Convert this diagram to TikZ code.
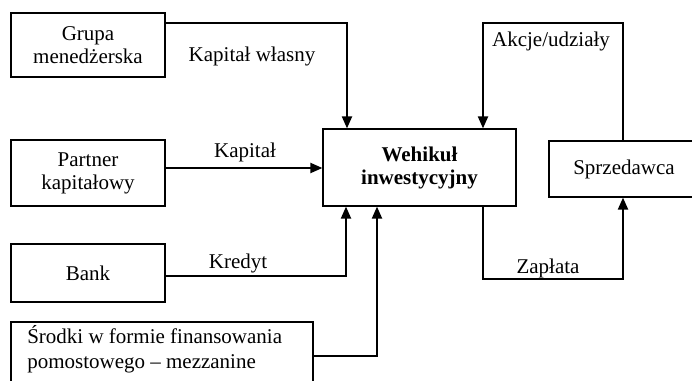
\documentclass[tikz,border=0pt]{standalone}
\usepackage{fontspec}
\setmainfont{Liberation Serif}
\usetikzlibrary{arrows.meta}
\begin{document}
\begin{tikzpicture}[x=0.75pt,y=-0.75pt,
  box/.style={draw,line width=0.9pt,inner sep=0pt,align=center,font=\fontsize{15.75}{17.25}\selectfont},
  txt/.style={inner sep=0pt,anchor=base,font=\fontsize{15.75}{17.25}\selectfont},
  conn/.style={line width=1.5pt,-{Triangle[length=9pt,width=7.5pt]}}]
\useasboundingbox (0,0) rectangle (692,381);
\clip (0,0) rectangle (692,381);
\node[box,minimum width=115.5pt,minimum height=48pt] (grupa) at (88,45) {Grupa\\menedżerska};
\node[box,minimum width=115.5pt,minimum height=49.5pt] (partner) at (88,173) {Partner\\kapitałowy};
\node[box,minimum width=115.5pt,minimum height=43.5pt] (bank) at (88,273) {Bank};
\node[box,minimum width=226.5pt,minimum height=58.5pt] (srodki) at (162,361) {};
\node[inner sep=0pt,anchor=west,align=left,font=\fontsize{15.75}{18.5}\selectfont] (srodkitxt) at (27,349) {Środki w formie finansowania\\pomostowego – mezzanine};
\node[box,minimum width=144.75pt,minimum height=57.75pt,font=\fontsize{15.75}{17.25}\selectfont\bfseries] (wehikul) at (419.5,167.5) {Wehikuł\\inwestycyjny};
\node[box,minimum width=112.5pt,minimum height=42pt] (sprzedawca) at (624,169) {Sprzedawca};

\coordinate (g1) at (347,23);
\coordinate (p1) at (165,168);
\coordinate (b1) at (346,276);
\coordinate (s1) at (377,356);
\coordinate (a1) at (623,23);
\coordinate (a2) at (483,23);
\coordinate (z1) at (483,279);
\coordinate (z2) at (623,279);

\draw[conn] (grupa.east |- g1) -- (g1) -- (g1 |- wehikul.north);
\draw[conn] (p1) -- (p1 -| wehikul.west);
\draw[conn] (bank.east |- b1) -- (b1) -- (b1 |- wehikul.south);
\draw[conn] (srodki.east |- s1) -- (s1) -- (s1 |- wehikul.south);
\draw[conn] (sprzedawca.north -| a1) -- (a1) -- (a2) -- (a2 |- wehikul.north);
\draw[conn] (wehikul.south -| z1) -- (z1) -- (z2) -- (z2 |- sprzedawca.south);

\node[txt] (l1) at (252,62) {Kapitał własny};
\node[txt] (l2) at (245,157) {Kapitał};
\node[txt] (l3) at (238,268) {Kredyt};
\node[txt] (l4) at (551,47) {Akcje/udziały};
\node[txt] (l5) at (548,273) {Zapłata};
\end{tikzpicture}
\end{document}
